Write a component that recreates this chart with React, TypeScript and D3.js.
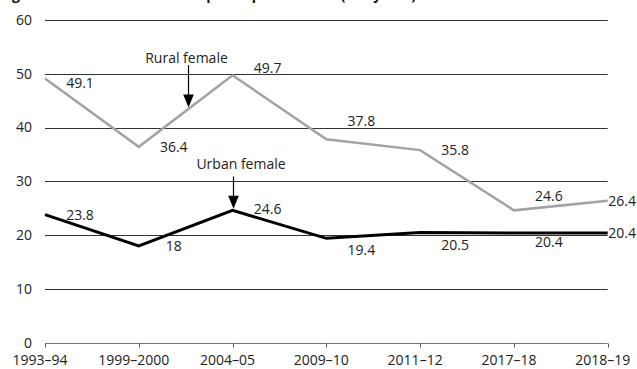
import React, { useEffect, useRef } from 'react';
import * as d3 from 'd3';

const categories = ['1993–94', '1999–2000', '2004–05', '2009–10', '2011–12', '2017–18', '2018–19'];
const ruralFemale = [49.1, 36.4, 49.7, 37.8, 35.8, 24.6, 26.4];
const urbanFemale = [23.8, 18, 24.6, 19.4, 20.5, 20.4, 20.4];
const yTicks = [0, 10, 20, 30, 40, 50, 60];

// vertical nudges for the value labels (px)
const ruralLabelDy = [5, 0, -7, -18, 0, -14, 0];
const urbanLabelDy = [0, 0, -1, 12, 13, 9, 0];

const title = 'Figure 3: Female labour force participation rates (15+ years)';

const W = 637;
const H = 369;
const FONT = '"Open Sans", "Noto Sans", sans-serif';

const App = () => {
  const ref = useRef<SVGSVGElement>(null);

  useEffect(() => {
    const svg = d3.select(ref.current);
    svg.selectAll('*').remove();

    const x = d3.scalePoint<string>().domain(categories).range([45, 607.7]);
    const y = d3.scaleLinear().domain([0, 60]).range([342.7, 19.9]);

    // title sits mostly above the visible area, as in the cropped original
    svg.append('text')
      .attr('x', 0)
      .attr('y', -0.5)
      .attr('font-family', FONT)
      .attr('font-weight', 'bold')
      .attr('font-size', 14)
      .attr('fill', '#111')
      .text(title);

    // gridlines
    svg.append('g')
      .selectAll('line')
      .data(yTicks.filter(d => d > 0))
      .enter()
      .append('line')
      .attr('x1', 45)
      .attr('x2', 607.7)
      .attr('y1', d => Math.round(y(d)) + 0.5)
      .attr('y2', d => Math.round(y(d)) + 0.5)
      .attr('stroke', '#333')
      .attr('stroke-width', 1);

    // x axis
    const axisY = Math.round(y(0)) + 0.5;
    svg.append('line')
      .attr('x1', 45)
      .attr('x2', 607.7)
      .attr('y1', axisY)
      .attr('y2', axisY)
      .attr('stroke', '#777')
      .attr('stroke-width', 1);

    svg.append('g')
      .selectAll('line')
      .data(categories)
      .enter()
      .append('line')
      .attr('x1', d => Math.round(x(d)!) + 0.5)
      .attr('x2', d => Math.round(x(d)!) + 0.5)
      .attr('y1', axisY)
      .attr('y2', axisY + 4)
      .attr('stroke', '#555')
      .attr('stroke-width', 1);

    svg.append('g')
      .selectAll('text')
      .data(categories)
      .enter()
      .append('text')
      .attr('x', d => x(d)! - 5)
      .attr('y', 365)
      .attr('text-anchor', 'middle')
      .attr('font-family', FONT)
      .attr('font-size', 14)
      .attr('fill', '#222')
      .text(d => d);

    // y tick labels
    svg.append('g')
      .selectAll('text')
      .data(yTicks)
      .enter()
      .append('text')
      .attr('x', 32)
      .attr('y', d => y(d))
      .attr('dy', '0.35em')
      .attr('text-anchor', 'end')
      .attr('font-family', FONT)
      .attr('font-size', 14)
      .attr('fill', '#222')
      .text(d => d);

    const line = d3.line<number>()
      .x((d, i) => x(categories[i])!)
      .y(d => y(d));

    const series = [
      { values: ruralFemale, color: '#a3a3a3', width: 2.5, dy: ruralLabelDy },
      { values: urbanFemale, color: '#000', width: 3, dy: urbanLabelDy },
    ];

    series.forEach(s => {
      svg.append('path')
        .datum(s.values)
        .attr('d', line)
        .attr('fill', 'none')
        .attr('stroke', s.color)
        .attr('stroke-width', s.width)
        .attr('stroke-linejoin', 'miter');
    });

    const last = categories.length - 1;
    series.forEach(s => {
      svg.append('g')
        .selectAll('text')
        .data(s.values)
        .enter()
        .append('text')
        .attr('x', (d, i) => (i === last ? W - 1 : x(categories[i])! + 35))
        .attr('y', (d, i) => y(d) + s.dy[i])
        .attr('dy', '0.35em')
        .attr('text-anchor', (d, i) => (i === last ? 'end' : 'middle'))
        .attr('font-family', FONT)
        .attr('font-size', 14)
        .attr('fill', '#222')
        .text(d => d);
    });

    // annotation arrows
    const annotations = [
      { label: 'Rural female', values: ruralFemale, seg: 1, t: 0.528, top: 51.6, dx: -2, gap: 2.5 },
      { label: 'Urban female', values: urbanFemale, seg: 2, t: 0, top: 30.9, dx: 7.5, gap: 7 },
    ];

    annotations.forEach(a => {
      const x0 = x(categories[a.seg])!;
      const x1 = x(categories[a.seg + 1])!;
      const v = a.values[a.seg] + a.t * (a.values[a.seg + 1] - a.values[a.seg]);
      const ax = Math.round(x0 + a.t * (x1 - x0)) + 0.5;
      const tipY = y(v) - 1.5;
      const topY = y(a.top);

      svg.append('line')
        .attr('x1', ax)
        .attr('x2', ax)
        .attr('y1', topY)
        .attr('y2', tipY - 10)
        .attr('stroke', '#000')
        .attr('stroke-width', 1.2);

      svg.append('path')
        .attr('d', `M${ax},${tipY} L${ax - 5.3},${tipY - 13} L${ax + 5.3},${tipY - 13} Z`)
        .attr('fill', '#000');

      svg.append('text')
        .attr('x', ax + a.dx)
        .attr('y', topY - a.gap)
        .attr('text-anchor', 'middle')
        .attr('font-family', FONT)
        .attr('font-size', 14)
        .attr('fill', '#222')
        .text(a.label);
    });
  }, []);

  return (
    <svg
      ref={ref}
      width={W}
      height={H}
      style={{ position: 'absolute', left: 0, top: 0, background: '#fff' }}
    />
  );
};

export default App;
